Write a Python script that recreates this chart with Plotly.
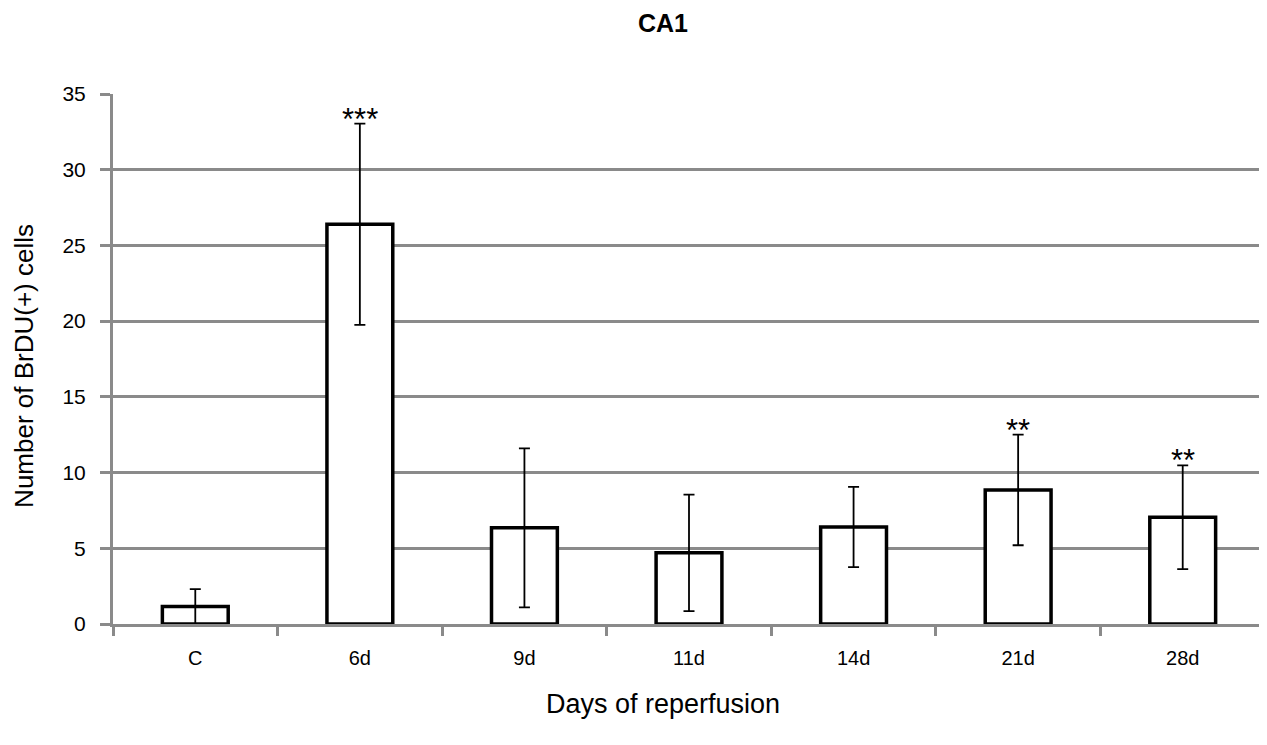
import plotly.graph_objects as go

categories = ["C", "6d", "9d", "11d", "14d", "21d", "28d"]
values = [1.15, 26.4, 6.35, 4.7, 6.4, 8.85, 7.05]
errors = [1.15, 6.65, 5.25, 3.85, 2.65, 3.65, 3.42]
stars = ["", "***", "", "", "", "**", "**"]

GRID = "#8a8a8a"
FONT = "Liberation Sans, Arial, sans-serif"

# page body has an 8px default margin; figure geometry compensates for it
fig = go.Figure()
fig.add_trace(go.Bar(
    x=categories, y=values, width=0.4,
    marker=dict(color="white", line=dict(color="black", width=3.5)),
    error_y=dict(type="data", array=errors, visible=True, color="black", thickness=1.8, width=5.5),
    showlegend=False,
))

for c, v, e, s in zip(categories, values, errors, stars):
    if s:
        fig.add_annotation(x=c, y=v + e, text=s, showarrow=False, yanchor="bottom",
                           yshift=-15, font=dict(family=FONT, size=31, color="black"))

fig.add_annotation(text="<b>CA1</b>", xref="paper", yref="paper", x=0.4774, y=1.0,
                   yshift=71, showarrow=False, xanchor="center", yanchor="middle",
                   font=dict(family=FONT, size=25, color="black"))
fig.add_annotation(text="Days of reperfusion", xref="paper", yref="paper", x=0.4774, y=0,
                   yshift=-80, showarrow=False, xanchor="center", yanchor="middle",
                   font=dict(family=FONT, size=27, color="black"))
fig.add_annotation(text="Number of BrDU(+) cells", xref="paper", yref="paper", x=0, y=0.487,
                   xshift=-89, showarrow=False, xanchor="center", yanchor="middle", textangle=-90,
                   font=dict(family=FONT, size=26, color="black"))

fig.update_layout(
    width=1259, height=737,
    margin=dict(l=105, r=2, t=86, b=121),
    paper_bgcolor="white", plot_bgcolor="white",
    font=dict(family=FONT, color="black"),
    xaxis=dict(
        showline=True, linecolor=GRID, linewidth=3,
        ticks="outside", tickson="boundaries", ticklen=9, tickwidth=3, tickcolor=GRID,
        tickfont=dict(family=FONT, size=20, color="black"),
        ticklabelstandoff=14,
        showgrid=False,
    ),
    yaxis=dict(
        range=[0, 35], tickvals=[0, 5, 10, 15, 20, 25, 30, 35],
        showline=True, linecolor=GRID, linewidth=3,
        ticks="outside", ticklen=10, tickwidth=3, tickcolor=GRID,
        showgrid=True, gridcolor=GRID, gridwidth=3,
        zeroline=False,
        tickfont=dict(family=FONT, size=21, color="black"),
        ticklabelstandoff=10,
    ),
)

fig.write_html("out.html")
